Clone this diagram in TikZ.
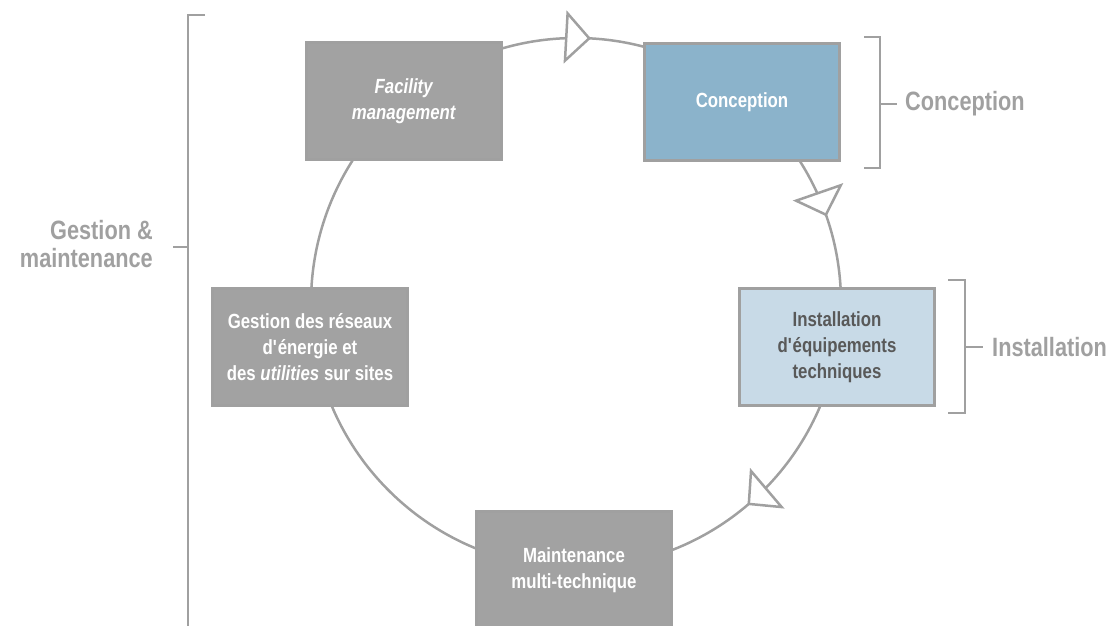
\documentclass[tikz,border=0pt]{standalone}
\usepackage{fontspec}
\setmainfont{Liberation Sans}[FakeStretch=0.82]
\usetikzlibrary{arrows.meta,decorations.markings}
\definecolor{linegray}{HTML}{A0A0A0}
\definecolor{boxgray}{HTML}{A2A2A2}
\definecolor{concblue}{HTML}{8BB3CB}
\definecolor{instblue}{HTML}{C8DAE7}
\definecolor{textgray}{HTML}{595959}
\newcommand\apos{\textquotesingle}
\begin{document}
\begin{tikzpicture}[
    x=1pt, y=1pt,
    every node/.style={font=\bfseries\fontsize{20.5}{26}\selectfont, align=center},
    box/.style={rectangle, draw=linegray, line width=2.5pt, minimum width=195pt, minimum height=117pt, inner sep=0pt, text=white},
    graybox/.style={box, fill=boxgray},
    bluebox/.style={box, fill=concblue},
    lightbox/.style={box, fill=instblue, text=textgray},
    bracket/.style={draw=linegray, line width=2pt},
    sidelabel/.style={font=\bfseries\fontsize{26.5}{28}\selectfont, text=linegray, inner ysep=0pt},
    flow/.tip={Triangle[length=26pt, width=53pt, fill=white]},
    ring/.style={draw=linegray, line width=2.5pt, postaction={decorate},
        decoration={markings,
            mark=at position 0.009 with {\arrow{flow}},
            mark=at position 0.197 with {\arrow{flow}},
            mark=at position 0.388 with {\arrow{flow}}}}
]
\useasboundingbox (0,0) rectangle (1116,625);
\coordinate (ctr) at (576,322);
\path[ring] (ctr) ++(90:265) arc[start angle=90, end angle=-270, radius=265];

\node[graybox] (fm) at (404,524) {\textit{Facility}\\\textit{management}};
\node[bluebox] (conc) at (742,523) {Conception};
\node[lightbox] (inst) at (837,278) {Installation\\d\apos équipements\\techniques};
\node[graybox] (gest) at (310,278) {Gestion des réseaux\\d\apos énergie et\\des \textit{utilities} sur sites};
\node[graybox] (maint) at (574,55) {Maintenance\\multi-technique};

% brackets
\coordinate (concb) at (880,521);
\coordinate (instb) at (965,278);
\coordinate (gmb) at (188,378);
\draw[bracket] (864,588) -- (880,588) -- (880,457) -- (864,457);
\draw[bracket] (948,345) -- (965,345) -- (965,212) -- (948,212);
\draw[bracket] (205,610) -- (188,610) -- (188,-10);

\node[sidelabel, anchor=west, inner xsep=8pt] (concl) at (897,521) {Conception};
\node[sidelabel, anchor=west, inner xsep=9pt] (instl) at (983,278) {Installation};
\node[sidelabel, anchor=east, inner xsep=20pt, align=right] (gml) at (173,381) {Gestion \&\\maintenance};
\draw[bracket] (concb) -- (concl.west);
\draw[bracket] (instb) -- (instl.west);
\draw[bracket] (gmb) -- (gml.east |- gmb);
\end{tikzpicture}
\end{document}
